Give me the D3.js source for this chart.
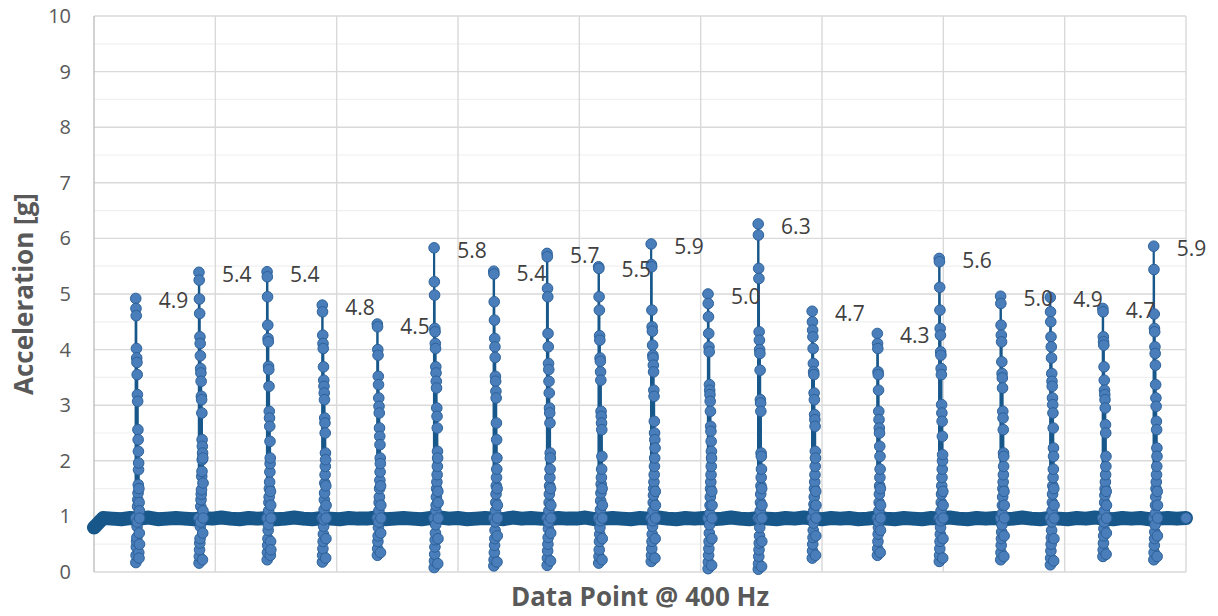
<!DOCTYPE html>
<html>
<head>
<meta charset="utf-8">
<script src="https://cdn.jsdelivr.net/npm/d3@7"></script>
<style>
  html, body { margin: 0; padding: 0; background: #ffffff; }
  svg { display: block; font-family: "Open Sans", "Noto Sans", sans-serif; }
</style>
</head>
<body>
<svg id="chart" width="1218" height="616"></svg>
<script>
// ---- data -------------------------------------------------------------
// Acceleration samples (g) recorded at 400 Hz.
const yTicks = [0, 1, 2, 3, 4, 5, 6, 7, 8, 9, 10];
const xMax = 18000;          // last data point index
const xGridStep = 2000;      // data points between vertical gridlines

// Resting signal, one value every `restStep` samples
const restStep = 150;
const restValues = [
  0.80, 0.97, 0.96, 0.95, 0.97, 0.96, 0.98, 0.95, 0.96, 0.97,
  0.96, 0.95, 0.97, 0.96, 0.98, 0.96, 0.95, 0.97, 0.96, 0.97,
  0.95, 0.96, 0.98, 0.96, 0.95, 0.97, 0.96, 0.95, 0.97, 0.96,
  0.96, 0.98, 0.95, 0.96, 0.97, 0.96, 0.95, 0.97, 0.98, 0.96,
  0.97, 0.95, 0.96, 0.97, 0.96, 0.95, 0.98, 0.96, 0.97, 0.96,
  0.95, 0.97, 0.96, 0.96, 0.98, 0.95, 0.96, 0.97, 0.96, 0.95,
  0.97, 0.96, 0.98, 0.96, 0.95, 0.97, 0.96, 0.97, 0.95, 0.96,
  0.98, 0.96, 0.95, 0.97, 0.96, 0.95, 0.97, 0.96, 0.98, 0.96,
  0.95, 0.97, 0.96, 0.97, 0.95, 0.96, 0.98, 0.96, 0.95, 0.97,
  0.96, 0.95, 0.97, 0.96, 0.98, 0.96, 0.95, 0.97, 0.96, 0.97,
  0.95, 0.96, 0.98, 0.96, 0.95, 0.97, 0.96, 0.95, 0.97, 0.96,
  0.98, 0.96, 0.95, 0.97, 0.96, 0.97, 0.95, 0.96, 0.97, 0.96,
  0.97
];

// Start index of each impact event
const spikeIndex = [
  720, 1765, 2885, 3795, 4700, 5640, 6620, 7500, 8350, 9220,
  10155, 10980, 11870, 12940, 13965, 14975, 15795, 16660, 17500
];

// Consecutive samples of each impact event (g), from rest back to rest
const spikeSamples = [
  [0.97, 4.92, 0.17, 4.74, 0.30, 4.61, 0.45, 4.02, 0.55, 3.85, 0.62, 3.77, 0.82, 3.55, 0.90, 3.19, 1.18, 3.07, 1.30, 2.56, 1.42, 2.38, 1.57, 2.17, 1.84, 1.96, 0.35, 1.50, 0.25, 1.25, 0.70, 1.10, 0.50, 0.97],
  [0.97, 5.39, 0.16, 5.25, 0.28, 4.91, 0.40, 4.65, 0.52, 4.23, 0.60, 4.11, 0.82, 3.89, 0.90, 3.66, 1.18, 3.58, 1.30, 3.43, 1.40, 3.16, 1.48, 3.10, 1.72, 2.86, 1.81, 2.38, 2.02, 2.26, 0.22, 2.14, 0.70, 2.05, 1.10, 1.60, 0.97],
  [0.97, 5.40, 0.22, 5.31, 0.35, 4.95, 0.48, 4.44, 0.60, 4.20, 0.75, 4.14, 0.85, 3.70, 1.10, 3.64, 1.25, 3.34, 1.35, 2.89, 1.50, 2.77, 1.62, 2.62, 1.80, 2.35, 1.95, 2.05, 0.30, 1.45, 0.55, 1.20, 0.40, 0.97],
  [0.97, 4.80, 0.18, 4.68, 0.30, 4.26, 0.42, 4.11, 0.55, 4.02, 0.68, 3.69, 0.82, 3.45, 0.94, 3.34, 1.12, 3.22, 1.30, 3.10, 1.42, 2.77, 1.60, 2.68, 1.75, 2.50, 1.90, 2.14, 2.02, 0.25, 1.55, 0.60, 1.20, 0.97],
  [0.97, 4.46, 0.30, 4.41, 0.42, 4.00, 0.55, 3.90, 0.65, 3.52, 0.80, 3.37, 0.90, 3.13, 1.10, 2.98, 1.25, 2.86, 1.35, 2.59, 1.50, 2.44, 1.65, 2.29, 1.80, 2.05, 1.95, 0.35, 1.55, 0.70, 1.20, 0.97],
  [0.97, 5.83, 0.08, 5.22, 0.20, 4.98, 0.32, 4.38, 0.45, 4.32, 0.58, 4.11, 0.70, 4.02, 0.85, 3.69, 1.10, 3.58, 1.20, 3.43, 1.35, 3.31, 1.50, 2.95, 1.62, 2.80, 1.75, 2.59, 1.90, 2.17, 2.05, 0.15, 1.45, 0.60, 1.25, 0.97],
  [0.97, 5.41, 0.11, 5.36, 0.22, 4.86, 0.35, 4.53, 0.48, 4.20, 0.60, 4.05, 0.75, 3.86, 0.90, 3.52, 1.10, 3.43, 1.25, 3.25, 1.40, 3.13, 1.55, 2.68, 1.70, 2.38, 1.85, 2.05, 0.18, 1.50, 0.65, 1.20, 0.97],
  [0.97, 5.73, 0.12, 5.67, 0.25, 5.10, 0.38, 4.95, 0.50, 4.29, 0.62, 4.05, 0.78, 3.75, 0.90, 3.64, 1.10, 3.43, 1.25, 3.22, 1.40, 2.95, 1.55, 2.86, 1.70, 2.68, 1.85, 2.14, 2.05, 0.20, 1.50, 0.70, 1.20, 0.97],
  [0.97, 5.49, 0.16, 5.46, 0.28, 4.95, 0.40, 4.71, 0.55, 4.25, 0.68, 4.17, 0.80, 3.85, 0.92, 3.79, 1.12, 3.60, 1.28, 3.45, 1.42, 2.89, 1.58, 2.80, 1.70, 2.68, 1.85, 2.56, 2.08, 0.22, 1.50, 0.60, 1.20, 0.97],
  [0.97, 5.90, 0.19, 5.53, 0.30, 5.49, 0.42, 4.71, 0.55, 4.41, 0.68, 4.33, 0.82, 4.08, 0.92, 3.90, 1.10, 3.85, 1.25, 3.72, 1.38, 3.60, 1.50, 3.27, 1.62, 3.16, 1.75, 2.71, 1.90, 2.50, 2.05, 2.38, 0.25, 2.23, 0.60, 1.45, 1.20, 0.97],
  [0.97, 5.00, 0.06, 4.83, 0.18, 4.59, 0.30, 4.29, 0.42, 4.05, 0.55, 3.96, 0.70, 3.37, 0.85, 3.27, 1.05, 3.19, 1.20, 3.07, 1.35, 2.89, 1.50, 2.62, 1.62, 2.53, 1.75, 2.35, 1.90, 2.17, 2.05, 0.12, 1.45, 0.60, 1.20, 0.97],
  [0.97, 6.26, 0.05, 6.06, 0.15, 5.46, 0.28, 5.28, 0.40, 4.32, 0.52, 4.17, 0.65, 4.00, 0.80, 3.93, 0.95, 3.63, 1.10, 3.10, 1.25, 3.04, 1.40, 2.89, 1.55, 2.14, 1.70, 2.08, 1.85, 0.10, 1.50, 0.55, 1.20, 0.97],
  [0.97, 4.69, 0.25, 4.50, 0.38, 4.35, 0.50, 4.23, 0.62, 4.02, 0.75, 3.75, 0.88, 3.60, 1.10, 3.55, 1.22, 3.22, 1.35, 3.10, 1.50, 2.83, 1.62, 2.74, 1.75, 2.62, 1.90, 2.17, 2.05, 0.30, 1.45, 0.65, 1.20, 0.97],
  [0.97, 4.29, 0.30, 4.11, 0.42, 4.02, 0.55, 3.60, 0.68, 3.55, 0.80, 3.27, 0.90, 2.89, 1.10, 2.74, 1.25, 2.59, 1.40, 2.50, 1.55, 2.26, 1.70, 2.08, 1.85, 0.35, 1.50, 0.75, 1.20, 0.97],
  [0.97, 5.64, 0.19, 5.58, 0.30, 5.12, 0.42, 4.71, 0.55, 4.38, 0.68, 4.26, 0.80, 3.96, 0.92, 3.90, 1.10, 3.66, 1.25, 3.55, 1.40, 3.01, 1.55, 2.86, 1.70, 2.71, 1.85, 2.44, 2.00, 2.11, 0.25, 1.45, 0.60, 1.20, 0.97],
  [0.97, 4.96, 0.22, 4.83, 0.35, 4.44, 0.48, 4.26, 0.60, 4.14, 0.72, 3.78, 0.85, 3.57, 1.05, 3.49, 1.20, 3.31, 1.35, 2.89, 1.50, 2.77, 1.62, 2.56, 1.75, 2.14, 1.90, 2.08, 0.28, 1.45, 0.65, 1.20, 0.97],
  [0.97, 4.94, 0.13, 4.68, 0.25, 4.50, 0.38, 4.23, 0.50, 4.05, 0.62, 3.85, 0.75, 3.57, 0.90, 3.43, 1.10, 3.34, 1.25, 3.13, 1.40, 3.01, 1.55, 2.86, 1.70, 2.59, 1.85, 2.23, 2.08, 0.20, 1.50, 0.60, 1.20, 0.97],
  [0.97, 4.74, 0.28, 4.68, 0.40, 4.23, 0.52, 4.14, 0.65, 4.08, 0.78, 3.69, 0.90, 3.45, 1.10, 3.27, 1.25, 3.19, 1.38, 3.10, 1.50, 2.95, 1.62, 2.65, 1.75, 2.50, 1.90, 2.08, 0.32, 1.45, 0.70, 1.20, 0.97],
  [0.97, 5.86, 0.22, 5.44, 0.35, 4.64, 0.48, 4.38, 0.60, 4.32, 0.72, 4.05, 0.85, 3.93, 1.05, 3.72, 1.20, 3.37, 1.35, 3.13, 1.50, 2.98, 1.62, 2.71, 1.75, 2.56, 1.90, 2.23, 2.08, 0.28, 1.45, 0.65, 1.20, 0.97]
];

const xTitle = "Data Point @ 400 Hz";
const yTitle = "Acceleration [g]";

// ---- layout -----------------------------------------------------------
const svg = d3.select("#chart");
const plot = { left: 94, right: 1186, top: 16, bottom: 572 };

const x = d3.scaleLinear().domain([0, xMax]).range([plot.left, plot.right]);
const y = d3.scaleLinear().domain([0, 10]).range([plot.bottom, plot.top]);

const lineColor = "#17578a";
const markerFill = "#4a7ebb";
const markerStroke = "#2c6199";

// ---- gridlines --------------------------------------------------------
const grid = svg.append("g");
const minorTicks = d3.range(0.5, 10, 1);
grid.selectAll("line.minor").data(minorTicks).join("line")
  .attr("x1", plot.left).attr("x2", plot.right)
  .attr("y1", d => y(d)).attr("y2", d => y(d))
  .attr("stroke", "#f0f0f0").attr("stroke-width", 1.2);

grid.selectAll("line.major").data(yTicks).join("line")
  .attr("x1", plot.left).attr("x2", plot.right)
  .attr("y1", d => y(d)).attr("y2", d => y(d))
  .attr("stroke", "#d9d9d9").attr("stroke-width", 1.4);

grid.selectAll("line.vert").data(d3.range(xGridStep, xMax + 1, xGridStep)).join("line")
  .attr("x1", d => x(d)).attr("x2", d => x(d))
  .attr("y1", plot.top).attr("y2", plot.bottom)
  .attr("stroke", "#d9d9d9").attr("stroke-width", 1.4);

// value axis line
grid.append("line")
  .attr("x1", x(0)).attr("x2", x(0))
  .attr("y1", plot.top).attr("y2", plot.bottom)
  .attr("stroke", "#bfbfbf").attr("stroke-width", 1.4);

// ---- y axis labels ----------------------------------------------------
const yAxis = d3.axisLeft(y).tickValues(yTicks).tickSize(0).tickPadding(23)
  .tickFormat(d3.format("d"));
const yg = svg.append("g").attr("transform", `translate(${plot.left},0)`).call(yAxis);
yg.select(".domain").remove();
yg.selectAll("text")
  .attr("font-family", "'Open Sans', sans-serif")
  .attr("font-size", 20)
  .attr("fill", "#595959");

// ---- series -----------------------------------------------------------
const restPoints = restValues.map((v, k) => ({ i: k * restStep, v }));
const spikePoints = [];
spikeSamples.forEach((vals, s) => {
  const n = vals.length;
  vals.forEach((v, j) => spikePoints.push({ i: spikeIndex[s] + 2 * j - n, v }));
});
const allPoints = restPoints.concat(spikePoints).sort((a, b) => a.i - b.i);

const line = d3.line().x(d => x(d.i)).y(d => y(d.v));

// the dense resting samples and their markers merge into one solid band
svg.append("path")
  .datum(restPoints)
  .attr("d", line)
  .attr("fill", "none")
  .attr("stroke", lineColor)
  .attr("stroke-width", 14)
  .attr("stroke-linejoin", "round")
  .attr("stroke-linecap", "round");

svg.append("g").selectAll("circle")
  .data(restPoints.slice(0, -1))
  .join("circle")
  .attr("cx", d => x(d.i)).attr("cy", d => y(d.v))
  .attr("r", 6.6)
  .attr("fill", lineColor);

// connecting line through every sample
svg.append("path")
  .datum(allPoints)
  .attr("d", line)
  .attr("fill", "none")
  .attr("stroke", lineColor)
  .attr("stroke-width", 2.2)
  .attr("stroke-linejoin", "round");

// impact samples and the final sample
const lastRest = restPoints[restPoints.length - 1];
svg.append("g").selectAll("circle")
  .data(spikePoints.concat([lastRest]))
  .join("circle")
  .attr("cx", d => x(d.i)).attr("cy", d => y(d.v))
  .attr("r", 5.3)
  .attr("fill", markerFill)
  .attr("stroke", markerStroke)
  .attr("stroke-width", 1);

// ---- peak labels ------------------------------------------------------
const peaks = spikeSamples.map((vals, s) => ({ i: spikeIndex[s], v: d3.max(vals) }));
svg.append("g").selectAll("text")
  .data(peaks)
  .join("text")
  .attr("x", d => x(d.i) + 21)
  .attr("y", d => y(d.v) + 2)
  .attr("dominant-baseline", "central")
  .attr("font-size", 21)
  .attr("fill", "#404040")
  .text(d => d3.format(".1f")(d.v));

// ---- axis titles ------------------------------------------------------
svg.append("text")
  .attr("x", (plot.left + plot.right) / 2)
  .attr("y", 606)
  .attr("text-anchor", "middle")
  .attr("font-size", 26)
  .attr("font-weight", "bold")
  .attr("fill", "#595959")
  .text(xTitle);

svg.append("text")
  .attr("transform", `translate(33,${(plot.top + plot.bottom) / 2}) rotate(-90)`)
  .attr("text-anchor", "middle")
  .attr("font-size", 26)
  .attr("font-weight", "bold")
  .attr("fill", "#595959")
  .text(yTitle);
</script>
</body>
</html>
